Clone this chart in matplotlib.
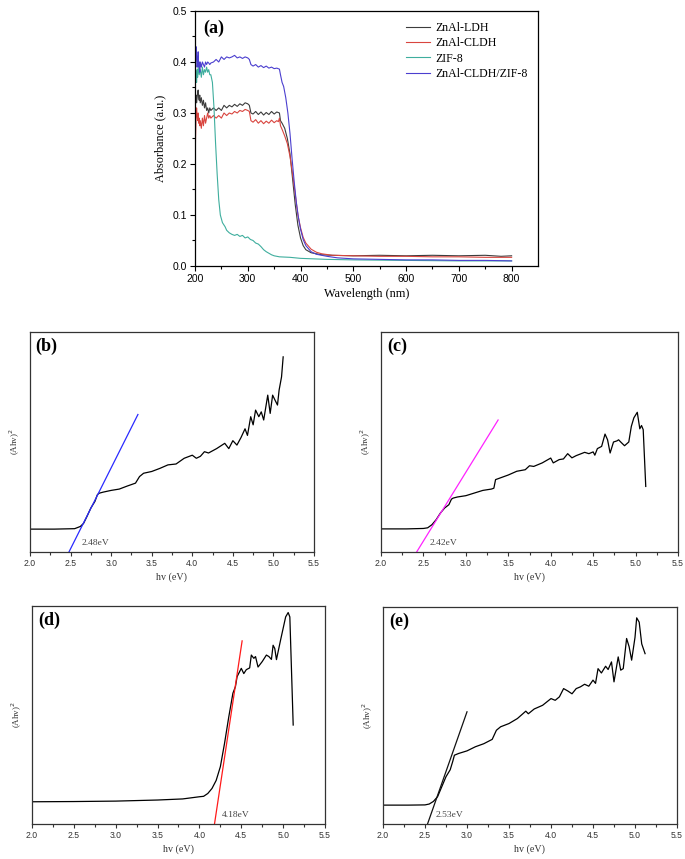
import matplotlib
matplotlib.use("Agg")
import matplotlib.pyplot as plt

# ---------------- Panel (a) data ----------------
wl_ldh = [200,201,202,203,204,205,206,207,208,209,210,212,214,216,218,220,222,224,226,228,230,235,240,245,250,255,260,265,270,275,280,285,290,295,300,303,306,310,315,320,325,330,335,340,345,350,355,360,362,365,370,375,380,385,390,395,400,405,410,420,440,460,500,550,600,650,700,750,780,800]
abs_ldh = [0.32,0.33,0.335,0.32,0.33,0.34,0.345,0.33,0.325,0.335,0.32,0.33,0.315,0.325,0.31,0.32,0.305,0.31,0.30,0.31,0.305,0.31,0.305,0.31,0.305,0.315,0.31,0.315,0.312,0.317,0.313,0.318,0.315,0.32,0.318,0.315,0.30,0.298,0.303,0.297,0.302,0.296,0.301,0.297,0.303,0.298,0.302,0.30,0.285,0.28,0.27,0.25,0.22,0.17,0.12,0.08,0.055,0.04,0.032,0.026,0.022,0.021,0.02,0.021,0.02,0.021,0.02,0.021,0.019,0.02]

wl_cldh = [200,201,202,203,204,205,206,207,208,209,210,212,214,216,218,220,222,224,226,228,230,235,240,245,250,255,260,265,270,275,280,285,290,295,300,303,306,310,315,320,325,330,335,340,345,350,355,358,360,362,365,370,375,380,385,390,395,400,405,410,420,430,440,460,500,550,600,650,700,750,800]
abs_cldh = [0.19,0.25,0.29,0.31,0.295,0.285,0.30,0.28,0.29,0.275,0.285,0.27,0.29,0.275,0.295,0.28,0.29,0.30,0.29,0.295,0.29,0.295,0.29,0.295,0.29,0.30,0.295,0.30,0.298,0.303,0.30,0.305,0.303,0.307,0.305,0.303,0.285,0.282,0.287,0.28,0.285,0.279,0.284,0.28,0.286,0.281,0.285,0.283,0.29,0.275,0.268,0.255,0.24,0.215,0.18,0.14,0.10,0.075,0.056,0.045,0.033,0.027,0.024,0.021,0.02,0.019,0.019,0.018,0.018,0.017,0.017]

wl_zif = [200,201,202,203,204,205,206,208,210,212,214,216,218,220,222,224,226,228,230,233,236,239,242,245,248,252,257,260,265,270,275,280,285,290,295,300,305,310,315,320,325,330,335,340,345,350,360,380,400,450,500,600,700,800]
abs_zif = [0.34,0.37,0.38,0.36,0.385,0.37,0.39,0.375,0.385,0.37,0.39,0.375,0.385,0.38,0.39,0.38,0.385,0.375,0.375,0.36,0.31,0.24,0.18,0.13,0.10,0.085,0.077,0.07,0.065,0.062,0.06,0.062,0.058,0.06,0.055,0.057,0.052,0.05,0.045,0.043,0.038,0.032,0.028,0.025,0.022,0.02,0.018,0.017,0.015,0.013,0.012,0.011,0.01,0.01]

wl_comp = [200,201,202,203,204,205,206,207,208,209,210,212,214,216,218,220,222,224,226,228,230,235,240,245,250,255,260,265,270,275,280,285,290,295,300,303,306,310,315,320,325,330,335,340,345,350,355,360,362,365,368,372,376,380,384,388,392,396,400,405,410,420,430,450,470,500,550,600,650,700,750,800]
abs_comp = [0.37,0.40,0.43,0.41,0.39,0.40,0.42,0.39,0.40,0.38,0.40,0.39,0.40,0.395,0.39,0.40,0.395,0.40,0.398,0.395,0.398,0.40,0.405,0.40,0.41,0.405,0.41,0.408,0.41,0.413,0.408,0.41,0.407,0.41,0.408,0.405,0.395,0.392,0.395,0.39,0.393,0.389,0.392,0.388,0.39,0.387,0.388,0.386,0.375,0.36,0.352,0.33,0.30,0.26,0.21,0.165,0.125,0.095,0.072,0.052,0.04,0.028,0.023,0.019,0.016,0.014,0.013,0.012,0.012,0.011,0.011,0.01]

series_names = ["ZnAl-LDH", "ZnAl-CLDH", "ZIF-8", "ZnAl-CLDH/ZIF-8"]
wl_xticks = [200, 300, 400, 500, 600, 700, 800]
abs_yticks = [0.0, 0.1, 0.2, 0.3, 0.4, 0.5]

# ---------------- Panels (b)-(e) data ----------------
hv_ticks = [2.0, 2.5, 3.0, 3.5, 4.0, 4.5, 5.0, 5.5]

hv_b = [2.0,2.3,2.55,2.62,2.66,2.7,2.75,2.8,2.83,2.85,2.9,3.0,3.1,3.2,3.3,3.35,3.4,3.5,3.6,3.7,3.8,3.9,4.0,4.05,4.1,4.15,4.2,4.3,4.4,4.45,4.5,4.55,4.6,4.65,4.68,4.72,4.75,4.78,4.82,4.85,4.88,4.9,4.93,4.96,4.99,5.02,5.05,5.07,5.1,5.12]
y_b = [0.104,0.104,0.106,0.116,0.13,0.16,0.2,0.23,0.26,0.267,0.272,0.28,0.286,0.30,0.313,0.343,0.358,0.366,0.38,0.396,0.40,0.426,0.44,0.426,0.435,0.456,0.45,0.47,0.494,0.47,0.506,0.486,0.52,0.56,0.53,0.615,0.578,0.645,0.615,0.637,0.60,0.645,0.713,0.63,0.713,0.69,0.668,0.736,0.796,0.887]
fit_b_x = [2.48, 3.33]
fit_b_y = [0.0, 0.625]

hv_c = [2.0,2.3,2.5,2.55,2.6,2.65,2.7,2.75,2.8,2.83,2.85,2.9,3.0,3.1,3.2,3.3,3.33,3.35,3.4,3.5,3.6,3.7,3.75,3.8,3.9,4.0,4.03,4.1,4.15,4.2,4.25,4.3,4.4,4.45,4.5,4.52,4.55,4.6,4.64,4.67,4.7,4.74,4.78,4.8,4.83,4.87,4.92,4.95,4.98,5.02,5.05,5.07,5.09,5.12]
y_c = [0.105,0.105,0.107,0.11,0.124,0.147,0.177,0.2,0.215,0.24,0.245,0.25,0.256,0.268,0.28,0.286,0.29,0.329,0.336,0.35,0.367,0.374,0.392,0.389,0.405,0.427,0.405,0.42,0.423,0.447,0.428,0.438,0.453,0.447,0.455,0.44,0.47,0.48,0.536,0.51,0.45,0.5,0.505,0.51,0.498,0.483,0.5,0.571,0.61,0.635,0.56,0.575,0.556,0.298]
fit_c_x = [2.42, 3.38]
fit_c_y = [0.0, 0.6]

hv_d = [2.0,2.5,3.0,3.5,3.8,4.0,4.05,4.1,4.15,4.2,4.25,4.3,4.35,4.4,4.43,4.45,4.5,4.53,4.56,4.6,4.62,4.65,4.67,4.7,4.75,4.8,4.83,4.86,4.88,4.9,4.92,4.97,5.03,5.06,5.08,5.12]
y_d = [0.102,0.103,0.105,0.11,0.115,0.125,0.127,0.14,0.163,0.2,0.263,0.37,0.49,0.6,0.63,0.676,0.714,0.69,0.708,0.716,0.775,0.76,0.768,0.72,0.745,0.775,0.768,0.755,0.82,0.805,0.754,0.845,0.95,0.97,0.95,0.454]
fit_d_x = [4.18, 4.51]
fit_d_y = [0.0, 0.84]

hv_e = [2.0,2.3,2.5,2.55,2.6,2.65,2.7,2.75,2.8,2.83,2.85,2.9,3.0,3.1,3.2,3.3,3.35,3.4,3.5,3.6,3.7,3.73,3.8,3.9,4.0,4.05,4.1,4.15,4.2,4.25,4.3,4.35,4.4,4.45,4.5,4.53,4.56,4.6,4.65,4.68,4.72,4.75,4.8,4.83,4.86,4.9,4.93,4.96,5.0,5.02,5.05,5.08,5.12]
y_e = [0.087,0.087,0.088,0.092,0.104,0.126,0.172,0.218,0.25,0.288,0.317,0.325,0.337,0.356,0.37,0.39,0.432,0.448,0.463,0.486,0.52,0.508,0.53,0.547,0.578,0.57,0.586,0.624,0.613,0.6,0.624,0.632,0.644,0.635,0.663,0.648,0.716,0.696,0.727,0.712,0.747,0.655,0.77,0.709,0.716,0.855,0.817,0.755,0.86,0.95,0.93,0.83,0.785]
fit_e_x = [2.53, 3.0]
fit_e_y = [0.0, 0.517]

# ---------------- Figure ----------------
W, H = 685, 859
fig = plt.figure(figsize=(W / 100, H / 100), dpi=100)

SERIF = ["Liberation Serif", "DejaVu Serif"]
SANS = ["Liberation Sans", "DejaVu Sans"]


def px_axes(left, top, right, bottom):
    return fig.add_axes([left / W, 1 - bottom / H, (right - left) / W, (bottom - top) / H])


# Panel (a)
ax = px_axes(195, 11, 538, 266)
cols = ["#3c3c3c", "#d9453f", "#3fae9e", "#4b3fcf"]
for wl, ab, c, n in zip([wl_ldh, wl_cldh, wl_zif, wl_comp],
                        [abs_ldh, abs_cldh, abs_zif, abs_comp], cols, series_names):
    ax.plot(wl, ab, color=c, lw=0.8, label=n)
ax.set_xlim(200, 850)
ax.set_ylim(0, 0.5)
ax.set_xticks(wl_xticks)
ax.set_xticks([250, 350, 450, 550, 650, 750], minor=True)
ax.set_yticks(abs_yticks)
ax.set_yticks([0.05, 0.15, 0.25, 0.35, 0.45], minor=True)
ax.set_yticklabels(["0.0", "0.1", "0.2", "0.3", "0.4", "0.5"])
ax.tick_params(which="both", direction="out", labelsize=7.5, width=0.8, pad=2)
ax.tick_params(which="major", length=3.5)
ax.tick_params(which="minor", length=2)
for lab in ax.get_xticklabels() + ax.get_yticklabels():
    lab.set_family(SANS)
for s in ax.spines.values():
    s.set_linewidth(0.9)
ax.set_xlabel("Wavelength (nm)", family=SERIF, fontsize=8.8, labelpad=3)
ax.set_ylabel("Absorbance (a.u.)", family=SERIF, fontsize=8.8, labelpad=5)
ax.text(0.025, 0.965, "(a)", transform=ax.transAxes, family=SERIF, fontweight="bold",
        fontsize=13, va="top", ha="left")
leg = ax.legend(loc="upper right", frameon=False, prop={"family": SERIF, "size": 8.6},
                handlelength=2.0, handletextpad=0.45, labelspacing=0.28,
                borderaxespad=0.3, bbox_to_anchor=(0.995, 0.99))


def band_panel(box, hv, y, fx, fy, fcol, label, txt, txt_x):
    a = px_axes(*box)
    a.plot(hv, y, color="black", lw=0.9)
    a.plot(fx, fy, color=fcol, lw=0.9)
    a.set_xlim(2.0, 5.5)
    a.set_ylim(0, 1.0)
    a.set_xticks(hv_ticks)
    a.set_xticks([2.25, 2.75, 3.25, 3.75, 4.25, 4.75, 5.25], minor=True)
    a.set_xticklabels(["%.1f" % t for t in hv_ticks])
    a.set_yticks([])
    a.tick_params(axis="x", which="both", direction="out", labelsize=6.2, width=0.8,
                  pad=2, colors="#333333")
    a.tick_params(axis="x", which="major", length=3)
    a.tick_params(axis="x", which="minor", length=1.8)
    for lab in a.get_xticklabels():
        lab.set_family(SANS)
    for s in a.spines.values():
        s.set_linewidth(0.9)
        s.set_color("#333333")
    a.set_xlabel("hv (eV)", family=SERIF, fontsize=7.2, labelpad=3, color="#333333")
    a.set_ylabel("(Ahv)$^2$", family=SERIF, fontsize=6.5, labelpad=6, color="#333333")
    a.text(0.02, 0.975, label, transform=a.transAxes, family=SERIF, fontweight="bold",
           fontsize=13, va="top", ha="left")
    a.text(txt_x, 0.04, txt, family=SERIF, fontsize=6.8, color="#444444",
           va="center", ha="left")
    return a


band_panel((30, 332, 314, 552), hv_b, y_b, fit_b_x, fit_b_y, "#2a2aff", "(b)", "2.48eV", 2.64)
band_panel((381, 332, 678, 552), hv_c, y_c, fit_c_x, fit_c_y, "#ff22ff", "(c)", "2.42eV", 2.57)
band_panel((32, 606, 325, 824), hv_d, y_d, fit_d_x, fit_d_y, "#ff1a1a", "(d)", "4.18eV", 4.27)
band_panel((383, 607, 677, 824), hv_e, y_e, fit_e_x, fit_e_y, "#111111", "(e)", "2.53eV", 2.63)

fig.savefig("out.png", dpi=100)
